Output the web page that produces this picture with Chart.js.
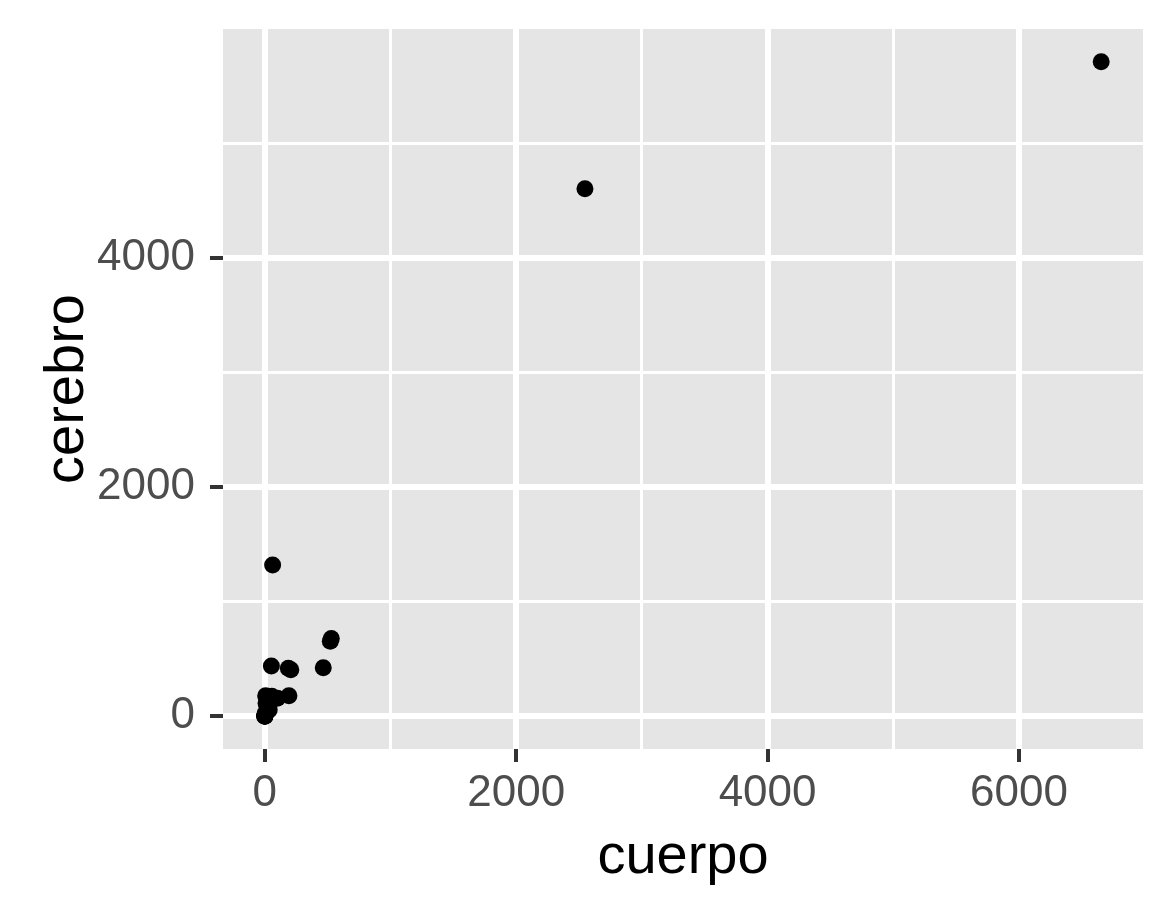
<!DOCTYPE html>
<html lang="es">
<head>
  <meta charset="UTF-8">
  <title>cuerpo vs cerebro</title>
  <script src="https://cdn.jsdelivr.net/npm/chart.js"></script>
  <style>
    body {
      margin: 0;
      background: #ffffff;
    }
    #chart-container {
      width: 1173px;
      height: 912px;
    }
  </style>
</head>
<body>
  <div id="chart-container">
    <canvas id="animalChart" width="1173" height="912"></canvas>
  </div>
  <script>
    // MASS::Animals sin dinosaurios
    const animales = [
      'Mountain beaver', 'Cow', 'Grey wolf', 'Goat', 'Guinea pig', 'Asian elephant',
      'Donkey', 'Horse', 'Potar monkey', 'Cat', 'Giraffe', 'Gorilla', 'Human',
      'African elephant', 'Rhesus monkey', 'Kangaroo', 'Golden hamster', 'Mouse',
      'Rabbit', 'Sheep', 'Jaguar', 'Chimpanzee', 'Rat', 'Mole', 'Pig'
    ];
    const cuerpo = [
      1.35, 465, 36.33, 27.66, 1.04, 2547,
      187.1, 521, 10, 3.3, 529, 207, 62,
      6654, 6.8, 35, 0.12, 0.023,
      2.5, 55.5, 100, 52.16, 0.28, 0.122, 192
    ];
    const cerebro = [
      8.1, 423, 119.5, 115, 5.5, 4603,
      419, 655, 115, 25.6, 680, 406, 1320,
      5712, 179, 56, 1, 0.4,
      12.1, 175, 157, 440, 1.9, 3, 180
    ];
    const xTicks = [0, 2000, 4000, 6000];
    const yTicks = [0, 2000, 4000];

    const puntos = cuerpo.map((c, i) => ({ x: c, y: cerebro[i] }));

    // rango con expansion del 5% como ggplot
    function rango(vals) {
      const lo = Math.min(...vals), hi = Math.max(...vals);
      const d = (hi - lo) * 0.05;
      return [lo - d, hi + d];
    }
    const [xMin, xMax] = rango(cuerpo);
    const [yMin, yMax] = rango(cerebro);

    const panelBg = {
      id: 'panelBg',
      beforeDraw(chart) {
        const { ctx, chartArea: a } = chart;
        ctx.save();
        ctx.fillStyle = '#E5E5E5';
        ctx.fillRect(a.left, a.top, a.right - a.left, a.bottom - a.top);
        ctx.restore();
      }
    };

    // lineas mayores y menores cada 1000 dentro del rango
    function soloMiles(scale) {
      const ticks = [];
      for (let v = Math.ceil(scale.min / 1000) * 1000; v <= scale.max; v += 1000) {
        ticks.push({ value: v });
      }
      scale.ticks = ticks;
    }

    function ejeGrid(mayores) {
      return {
        color: '#FFFFFF',
        lineWidth: ctx => mayores.includes(ctx.tick.value) ? 6 : 3,
        drawTicks: true,
        tickLength: 13,
        tickWidth: 4,
        tickColor: ctx => mayores.includes(ctx.tick.value) ? '#333333' : 'rgba(0,0,0,0)'
      };
    }

    const fuente = 'Liberation Sans, Arial, sans-serif';

    const ctx = document.getElementById('animalChart').getContext('2d');
    new Chart(ctx, {
      type: 'scatter',
      data: {
        datasets: [{
          label: 'cerebro',
          data: puntos,
          backgroundColor: '#000000',
          borderWidth: 0,
          pointRadius: 8.5,
          pointHoverRadius: 8.5
        }]
      },
      plugins: [panelBg],
      options: {
        responsive: false,
        animation: false,
        layout: { padding: { top: 29, right: 30, left: 0, bottom: 0 } },
        plugins: {
          legend: { display: false },
          tooltip: { enabled: false }
        },
        scales: {
          x: {
            type: 'linear',
            min: xMin,
            max: xMax,
            border: { display: false },
            grid: ejeGrid(xTicks),
            afterBuildTicks: soloMiles,
            afterFit: s => {
              s.height = 163;
              s.paddingLeft = 0;
              s.paddingRight = 0;
            },
            ticks: {
              autoSkip: false,
              maxRotation: 0,
              padding: 5,
              color: '#4D4D4D',
              font: { family: fuente, size: 44 },
              callback: v => xTicks.includes(v) ? String(v) : ''
            },
            title: {
              display: true,
              text: 'cuerpo',
              color: '#000000',
              font: { family: fuente, size: 56 },
              padding: { top: 0, bottom: 21 }
            }
          },
          y: {
            type: 'linear',
            min: yMin,
            max: yMax,
            border: { display: false },
            grid: ejeGrid(yTicks),
            afterBuildTicks: soloMiles,
            afterFit: s => {
              s.width = 223;
              s.paddingTop = 0;
              s.paddingBottom = 0;
            },
            ticks: {
              autoSkip: false,
              padding: 15,
              color: '#4D4D4D',
              font: { family: fuente, size: 44 },
              callback: v => yTicks.includes(v) ? String(v) : ''
            },
            title: {
              display: true,
              text: 'cerebro',
              color: '#000000',
              font: { family: fuente, size: 56 },
              padding: { top: 34, bottom: 0 }
            }
          }
        }
      }
    });
  </script>
</body>
</html>
